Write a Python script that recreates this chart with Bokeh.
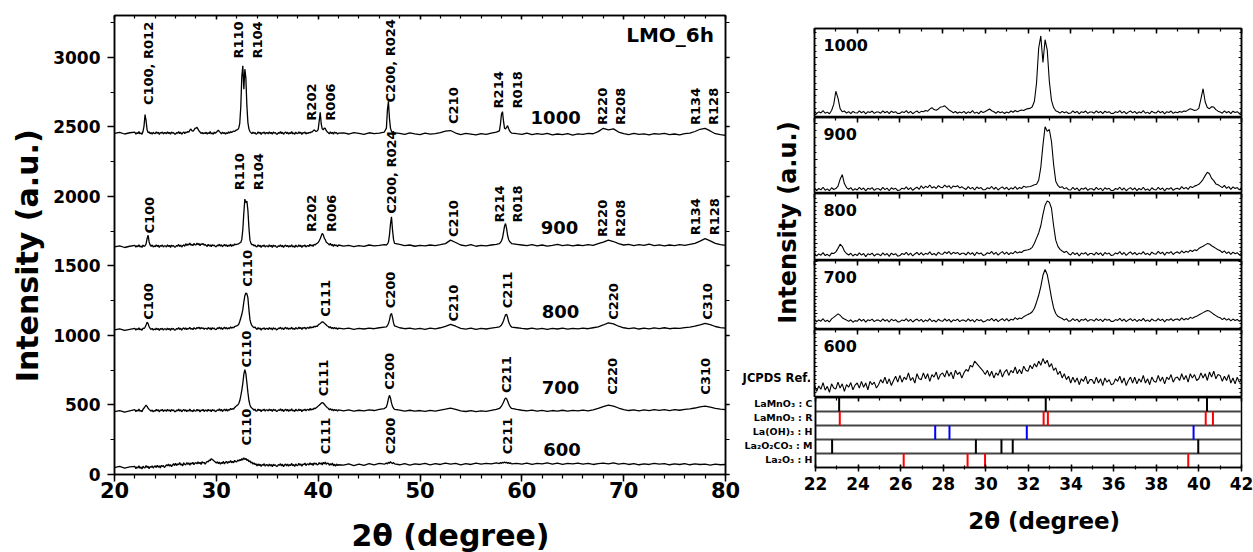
import math
from bokeh.plotting import figure
from bokeh.models import (Range1d, LinearAxis, SingleIntervalTicker, FixedTicker, BasicTicker,
                          Label, ColumnDataSource, Grid, PrintfTickFormatter)
from bokeh.layouts import row, column
from bokeh.embed import file_html
from bokeh.resources import INLINE
from bokeh.core.properties import value

FONT = "DejaVu Sans"

# ---------------- data ----------------
two_theta = [
    20.0, 20.5, 21.0, 21.5,
    22.0, 22.1, 22.2, 22.3, 22.4, 22.5, 22.6, 22.7, 22.8, 22.9,
    23.0, 23.1, 23.2, 23.3, 23.4, 23.5, 23.6, 23.7, 23.8, 23.9,
    24.0, 24.1, 24.2, 24.3, 24.4, 24.5, 24.6, 24.7, 24.8, 24.9,
    25.0, 25.1, 25.2, 25.3, 25.4, 25.5, 25.6, 25.7, 25.8, 25.9,
    26.0, 26.1, 26.2, 26.3, 26.4, 26.5, 26.6, 26.7, 26.8, 26.9,
    27.0, 27.1, 27.2, 27.3, 27.4, 27.5, 27.6, 27.7, 27.8, 27.9,
    28.0, 28.1, 28.2, 28.3, 28.4, 28.5, 28.6, 28.7, 28.8, 28.9,
    29.0, 29.1, 29.2, 29.3, 29.4, 29.5, 29.6, 29.7, 29.8, 29.9,
    30.0, 30.1, 30.2, 30.3, 30.4, 30.5, 30.6, 30.7, 30.8, 30.9,
    31.0, 31.1, 31.2, 31.3, 31.4, 31.5, 31.6, 31.7, 31.8, 31.9,
    32.0, 32.1, 32.2, 32.3, 32.4, 32.5, 32.6, 32.7, 32.8, 32.9,
    33.0, 33.1, 33.2, 33.3, 33.4, 33.5, 33.6, 33.7, 33.8, 33.9,
    34.0, 34.1, 34.2, 34.3, 34.4, 34.5, 34.6, 34.7, 34.8, 34.9,
    35.0, 35.1, 35.2, 35.3, 35.4, 35.5, 35.6, 35.7, 35.8, 35.9,
    36.0, 36.1, 36.2, 36.3, 36.4, 36.5, 36.6, 36.7, 36.8, 36.9,
    37.0, 37.1, 37.2, 37.3, 37.4, 37.5, 37.6, 37.7, 37.8, 37.9,
    38.0, 38.1, 38.2, 38.3, 38.4, 38.5, 38.6, 38.7, 38.8, 38.9,
    39.0, 39.1, 39.2, 39.3, 39.4, 39.5, 39.6, 39.7, 39.8, 39.9,
    40.0, 40.1, 40.2, 40.3, 40.4, 40.5, 40.6, 40.7, 40.8, 40.9,
    41.0, 41.1, 41.2, 41.3, 41.4, 41.5, 41.6, 41.7, 41.8, 41.9,
    42.0,
    42.5, 43.0, 43.5, 44.0, 44.5, 45.0, 45.5, 46.0, 46.5,
    46.7, 46.8, 46.9, 47.0, 47.1, 47.2, 47.3, 47.4, 47.5,
    48.0, 48.5, 49.0, 49.5, 50.0, 50.5, 51.0, 51.5, 52.0, 52.5, 53.0, 53.5, 54.0,
    54.5, 55.0, 55.5, 56.0, 56.5, 57.0, 57.5,
    57.8, 57.9, 58.0, 58.1, 58.2, 58.3, 58.4, 58.5, 58.6, 58.7, 58.8, 58.9, 59.0,
    59.5, 60.0, 60.5, 61.0, 61.5, 62.0, 62.5, 63.0, 63.5, 64.0, 64.5, 65.0, 65.5,
    66.0, 66.5, 67.0, 67.5, 68.0, 68.5, 69.0, 69.5, 70.0, 70.5, 71.0, 71.5, 72.0,
    72.5, 73.0, 73.5, 74.0, 74.5, 75.0, 75.5, 76.0, 76.5, 77.0, 77.5, 78.0, 78.5,
    79.0, 79.5, 80.0,
]

int_1000 = [
    2452, 2460, 2448, 2457,
    2461, 2447, 2458, 2451, 2465, 2449, 2456, 2446, 2466, 2505,
    2588, 2545, 2478, 2458, 2463, 2450, 2459, 2446, 2461, 2452,
    2450, 2464, 2452, 2461, 2445, 2459, 2454, 2463, 2448, 2457,
    2457, 2449, 2464, 2452, 2460, 2446, 2462, 2454, 2459, 2447,
    2448, 2458, 2453, 2465, 2450, 2461, 2446, 2456, 2463, 2451,
    2461, 2458, 2466, 2462, 2475, 2484, 2472, 2468, 2476, 2488,
    2490, 2496, 2483, 2470, 2462, 2452, 2460, 2449, 2457, 2451,
    2461, 2447, 2458, 2451, 2465, 2449, 2456, 2446, 2462, 2453,
    2460, 2468, 2476, 2465, 2458, 2449, 2461, 2452, 2458, 2447,
    2457, 2451, 2463, 2455, 2466, 2458, 2464, 2470, 2466, 2474,
    2478, 2480, 2490, 2525, 2640, 2860, 2938, 2770, 2914, 2850,
    2650, 2530, 2485, 2465, 2458, 2450, 2461, 2452, 2458, 2447,
    2450, 2464, 2452, 2461, 2445, 2459, 2454, 2463, 2448, 2457,
    2457, 2449, 2464, 2452, 2460, 2446, 2462, 2454, 2459, 2447,
    2448, 2458, 2453, 2465, 2450, 2461, 2446, 2456, 2463, 2451,
    2461, 2447, 2458, 2451, 2465, 2449, 2456, 2446, 2462, 2453,
    2450, 2464, 2452, 2461, 2445, 2459, 2454, 2463, 2448, 2457,
    2452, 2460, 2455, 2463, 2461, 2470, 2478, 2472, 2466, 2470,
    2480, 2540, 2604, 2520, 2485, 2478, 2490, 2488, 2472, 2462,
    2457, 2449, 2464, 2452, 2460, 2446, 2462, 2454, 2459, 2447,
    2454,
    2456, 2448, 2458, 2452, 2446, 2457, 2451, 2455, 2462,
    2490, 2620, 2683, 2560, 2490, 2468, 2458, 2452, 2456,
    2452, 2445, 2456, 2449, 2443, 2455, 2447, 2451, 2458, 2468, 2473, 2455, 2444,
    2452, 2447, 2441, 2450, 2446, 2455, 2462,
    2470, 2520, 2590, 2609, 2540, 2490, 2485, 2495, 2508, 2488, 2470, 2460, 2455,
    2450, 2446, 2455, 2443, 2450, 2445, 2452, 2441, 2448, 2444, 2451, 2440, 2449,
    2446, 2452, 2450, 2465, 2489, 2478, 2485, 2462, 2450, 2443, 2452, 2446, 2449,
    2441, 2450, 2447, 2452, 2444, 2448, 2442, 2450, 2455, 2466, 2482, 2489, 2470,
    2450, 2443, 2438,
]

int_900 = [
    1636, 1644, 1632, 1641,
    1648, 1634, 1645, 1638, 1652, 1636, 1643, 1633, 1649, 1640,
    1645, 1658, 1695, 1720, 1672, 1650, 1641, 1650, 1635, 1644,
    1637, 1651, 1639, 1648, 1632, 1646, 1641, 1650, 1635, 1644,
    1644, 1636, 1651, 1639, 1647, 1633, 1649, 1641, 1646, 1634,
    1637, 1647, 1642, 1654, 1639, 1650, 1635, 1645, 1652, 1640,
    1660, 1646, 1657, 1650, 1664, 1648, 1655, 1645, 1661, 1652,
    1650, 1664, 1652, 1661, 1645, 1659, 1654, 1660, 1648, 1655,
    1646, 1640, 1655, 1643, 1651, 1637, 1653, 1645, 1650, 1638,
    1639, 1649, 1644, 1656, 1641, 1652, 1637, 1647, 1654, 1642,
    1652, 1638, 1649, 1642, 1656, 1640, 1651, 1645, 1658, 1652,
    1655, 1656, 1660, 1665, 1668, 1690, 1760, 1880, 1980, 1955,
    1965, 1900, 1775, 1685, 1662, 1650, 1655, 1643, 1650, 1638,
    1637, 1651, 1639, 1648, 1632, 1646, 1641, 1650, 1635, 1644,
    1644, 1636, 1651, 1639, 1647, 1633, 1649, 1641, 1646, 1634,
    1635, 1645, 1640, 1652, 1637, 1648, 1633, 1643, 1650, 1638,
    1648, 1634, 1645, 1638, 1652, 1636, 1643, 1633, 1649, 1640,
    1637, 1651, 1639, 1648, 1632, 1646, 1641, 1650, 1635, 1644,
    1646, 1640, 1655, 1643, 1651, 1640, 1656, 1650, 1658, 1662,
    1668, 1680, 1695, 1715, 1733, 1725, 1700, 1688, 1670, 1665,
    1658, 1650, 1662, 1646, 1655, 1640, 1654, 1645, 1650, 1638,
    1650,
    1642, 1648, 1638, 1646, 1640, 1650, 1643, 1647, 1652,
    1650, 1658, 1670, 1720, 1800, 1852, 1760, 1690, 1662,
    1655, 1645, 1650, 1641, 1648, 1643, 1650, 1645, 1652, 1660, 1685, 1668, 1650,
    1644, 1652, 1641, 1648, 1643, 1650, 1655,
    1660, 1668, 1680, 1700, 1740, 1785, 1804, 1770, 1720, 1690, 1675, 1668, 1660,
    1655, 1650, 1645, 1652, 1644, 1650, 1642, 1648, 1655, 1645, 1651, 1643, 1650,
    1646, 1653, 1648, 1660, 1670, 1685, 1675, 1660, 1650, 1655, 1645, 1652, 1647,
    1656, 1646, 1651, 1644, 1650, 1645, 1652, 1648, 1655, 1662, 1678, 1696, 1680,
    1662, 1652, 1648,
]

int_800 = [
    1040, 1047, 1036, 1044,
    1050, 1038, 1048, 1042, 1054, 1040, 1046, 1037, 1052, 1050,
    1058, 1075, 1095, 1085, 1062, 1050, 1043, 1051, 1038, 1047,
    1040, 1053, 1042, 1050, 1035, 1049, 1044, 1052, 1038, 1047,
    1047, 1039, 1053, 1042, 1050, 1036, 1052, 1044, 1049, 1037,
    1040, 1050, 1045, 1056, 1042, 1052, 1038, 1048, 1055, 1043,
    1054, 1042, 1051, 1046, 1058, 1044, 1050, 1041, 1056, 1048,
    1046, 1058, 1050, 1060, 1046, 1056, 1050, 1055, 1044, 1051,
    1051, 1043, 1057, 1046, 1054, 1040, 1056, 1048, 1053, 1041,
    1044, 1054, 1049, 1060, 1046, 1056, 1042, 1052, 1059, 1047,
    1057, 1045, 1054, 1049, 1061, 1052, 1058, 1055, 1064, 1066,
    1068, 1072, 1080, 1100, 1125, 1150, 1185, 1240, 1285, 1305,
    1300, 1270, 1185, 1115, 1085, 1070, 1062, 1055, 1061, 1049,
    1043, 1056, 1045, 1053, 1038, 1052, 1047, 1055, 1041, 1050,
    1050, 1042, 1056, 1045, 1053, 1039, 1055, 1047, 1052, 1040,
    1043, 1053, 1048, 1059, 1045, 1055, 1041, 1051, 1058, 1046,
    1055, 1043, 1052, 1047, 1059, 1045, 1051, 1042, 1057, 1049,
    1047, 1060, 1049, 1057, 1042, 1056, 1051, 1059, 1045, 1054,
    1058, 1050, 1063, 1053, 1061, 1056, 1066, 1060, 1068, 1064,
    1074, 1080, 1085, 1092, 1098, 1096, 1088, 1082, 1075, 1068,
    1064, 1055, 1063, 1050, 1058, 1046, 1057, 1049, 1054, 1043,
    1052,
    1047, 1052, 1044, 1050, 1046, 1053, 1048, 1055, 1060,
    1062, 1070, 1085, 1110, 1145, 1159, 1130, 1090, 1068,
    1055, 1048, 1053, 1045, 1050, 1044, 1052, 1047, 1055, 1065, 1080, 1066, 1050,
    1045, 1052, 1044, 1050, 1046, 1053, 1058,
    1062, 1068, 1075, 1088, 1105, 1128, 1148, 1152, 1130, 1100, 1080, 1068, 1060,
    1055, 1050, 1046, 1053, 1045, 1051, 1044, 1050, 1046, 1052, 1045, 1051, 1047,
    1053, 1048, 1055, 1062, 1075, 1090, 1083, 1066, 1055, 1049, 1054, 1046, 1052,
    1047, 1054, 1049, 1055, 1048, 1053, 1050, 1056, 1060, 1066, 1076, 1087, 1078,
    1064, 1056, 1052,
]

int_700 = [
    452, 460, 448, 457,
    466, 452, 463, 456, 470, 454, 461, 451, 469, 478,
    488, 498, 490, 476, 468, 462, 455, 464, 450, 459,
    455, 469, 457, 466, 450, 464, 459, 468, 453, 462,
    462, 454, 469, 457, 465, 451, 467, 459, 464, 452,
    453, 463, 458, 470, 455, 466, 451, 461, 468, 456,
    466, 452, 463, 456, 470, 454, 461, 451, 467, 458,
    455, 469, 457, 466, 450, 464, 459, 468, 453, 462,
    462, 454, 469, 457, 465, 451, 467, 459, 464, 452,
    455, 465, 460, 472, 457, 468, 453, 463, 470, 458,
    470, 456, 467, 462, 476, 466, 474, 470, 482, 488,
    495, 500, 510, 530, 565, 605, 655, 720, 753, 725,
    660, 590, 532, 500, 484, 477, 471, 462, 470, 456,
    457, 471, 459, 468, 452, 466, 461, 470, 455, 464,
    464, 456, 471, 459, 467, 453, 469, 461, 466, 454,
    455, 465, 460, 472, 457, 468, 453, 463, 470, 458,
    468, 454, 465, 458, 472, 456, 463, 453, 469, 460,
    457, 471, 459, 468, 452, 466, 461, 470, 458, 467,
    468, 460, 475, 463, 471, 466, 478, 472, 480, 484,
    492, 498, 505, 512, 517, 514, 505, 496, 488, 480,
    476, 465, 474, 462, 470, 458, 468, 460, 466, 455,
    465,
    458, 464, 455, 462, 457, 465, 460, 468, 474,
    485, 510, 545, 569, 550, 515, 490, 476, 468,
    463, 456, 462, 455, 460, 454, 461, 456, 463, 470, 478, 468, 458,
    453, 460, 452, 458, 454, 461, 468,
    475, 482, 492, 505, 520, 538, 550, 545, 528, 508, 492, 482, 475,
    468, 462, 457, 463, 455, 461, 454, 460, 456, 462, 455, 461, 457,
    463, 458, 465, 475, 488, 498, 492, 478, 466, 460, 465, 458, 464,
    459, 466, 461, 467, 460, 466, 462, 468, 472, 478, 486, 491, 484,
    475, 470, 467,
]

int_600 = [
    50, 58, 46, 55,
    58, 42, 55, 47, 63, 45, 54, 40, 60, 50,
    48, 64, 50, 60, 42, 58, 52, 63, 46, 57,
    62, 50, 66, 52, 62, 46, 66, 58, 64, 50,
    58, 70, 62, 76, 60, 72, 56, 68, 78, 64,
    80, 64, 76, 70, 86, 68, 75, 62, 84, 72,
    70, 86, 72, 84, 66, 82, 76, 88, 70, 82,
    86, 76, 92, 78, 88, 72, 92, 82, 88, 74,
    86, 94, 90, 104, 100, 114, 108, 102, 96, 90,
    82, 92, 78, 90, 74, 86, 80, 94, 76, 88,
    94, 80, 92, 86, 100, 84, 94, 84, 102, 92,
    90, 104, 96, 108, 100, 114, 104, 120, 108, 116,
    100, 108, 92, 98, 82, 90, 74, 84, 70, 78,
    62, 76, 64, 74, 58, 72, 66, 78, 60, 70,
    70, 60, 76, 62, 72, 56, 74, 64, 70, 58,
    60, 72, 66, 78, 62, 74, 56, 68, 76, 62,
    76, 60, 72, 64, 80, 62, 72, 58, 76, 66,
    64, 80, 66, 76, 60, 76, 70, 82, 64, 74,
    76, 68, 84, 70, 80, 64, 84, 74, 82, 68,
    72, 86, 74, 84, 68, 88, 76, 90, 72, 82,
    80, 66, 78, 68, 82, 62, 74, 60, 76, 64,
    70,
    68, 76, 64, 74, 66, 78, 70, 80, 74,
    82, 76, 88, 80, 92, 84, 78, 86, 76,
    70, 78, 68, 76, 72, 80, 70, 78, 72, 82, 74, 80, 70,
    78, 72, 82, 74, 80, 76, 84,
    78, 86, 80, 88, 82, 90, 84, 88, 80, 86, 78, 84, 76,
    80, 74, 82, 72, 80, 76, 84, 74, 82, 72, 80, 76, 82,
    74, 80, 72, 78, 82, 76, 84, 74, 80, 72, 78, 70, 76,
    72, 80, 74, 78, 70, 76, 72, 78, 70, 76, 72, 74, 68,
    74, 70, 72,
]

samples = ["1000", "900", "800", "700", "600"]
series = [int_1000, int_900, int_800, int_700, int_600]

# sample name labels (left panel): left edge x, centre y
sample_lab_x = [60.86, 61.85, 61.95, 61.95, 62.1]
sample_lab_y = [2568, 1773, 1171, 622, 180]

# peak index labels (left panel): text, x, y of text start
peak_lab_text = [
    "C100, R012", "R110", "R104", "R202", "R006", "C200, R024", "C210", "R214", "R018",
    "R220", "R208", "R134", "R128",
    "C100", "R110", "R104", "R202", "R006", "C200, R024", "C210", "R214", "R018",
    "R220", "R208", "R134", "R128",
    "C100", "C110", "C111", "C200", "C210", "C211", "C220", "C310",
    "C110", "C111", "C200", "C211", "C220", "C310",
    "C110", "C111", "C200", "C211",
]
peak_lab_x = [
    23.3, 32.15, 34.02, 39.35, 41.22, 47.11, 53.33, 57.75, 59.56, 67.9, 69.7, 77.07, 78.87,
    23.44, 32.28, 34.1, 39.35, 41.3, 47.18, 53.33, 57.82, 59.56, 67.9, 69.7, 77.1, 78.9,
    23.37, 33.03, 40.73, 47.11, 53.33, 58.57, 69.05, 78.28,
    32.93, 40.56, 47.01, 58.5, 68.95, 78.05,
    32.93, 40.73, 47.11, 58.57,
]
peak_lab_y = [
    2656, 2991, 2991, 2544, 2544, 2675, 2520, 2632, 2632, 2513, 2513, 2513, 2513,
    1732, 2043, 2043, 1744, 1744, 1875, 1708, 1811, 1811, 1708, 1708, 1720, 1720,
    1112, 1350, 1135, 1195, 1100, 1195, 1112, 1112,
    770, 562, 610, 586, 574, 574,
    209, 145, 145, 145,
]

# right-hand zoom panels: y limits of each panel
zoom_y_start = [2422, 1618, 1016, 408, 27.6]
zoom_y_end = [2985, 2030, 1342, 805, 189]

# JCPDS reference lines
ref_phases = ["LaMnO\u2083 : C", "LaMnO\u2083 : R", "La(OH)\u2083 : H",
              "La\u2082O\u2082CO\u2083 : M", "La\u2082O\u2083 : H"]
ref_colors = ["black", "red", "blue", "black", "red"]
ref_positions = [
    [23.11, 32.81, 40.38],
    [23.14, 32.71, 32.91, 40.32, 40.66],
    [27.62, 28.29, 31.92, 39.75],
    [22.78, 29.53, 30.73, 31.26, 39.97],
    [26.14, 29.14, 29.96, 39.5],
]


# ---------------- helpers ----------------
def style_axis(ax, ticker, tin, tout, mtin, mtout, label_size=None, standoff=0):
    ax.ticker = ticker
    ax.major_tick_in = tin
    ax.major_tick_out = tout
    ax.minor_tick_in = mtin
    ax.minor_tick_out = mtout
    ax.axis_line_color = "black"
    ax.axis_line_width = 1.5
    ax.major_tick_line_color = "black"
    ax.major_tick_line_width = 1.5
    ax.minor_tick_line_color = "black"
    ax.minor_tick_line_width = 1.2
    ax.axis_label = None
    if label_size is None:
        ax.formatter = PrintfTickFormatter(format="")
        ax.major_label_text_font_size = "1px"
        ax.major_label_standoff = 0
    else:
        ax.major_label_text_font_size = label_size
        ax.major_label_text_font = FONT
        ax.major_label_text_font_style = "bold"
        ax.major_label_text_color = "black"
        ax.major_label_standoff = standoff


def blabel(p, x, y, text, size, **kw):
    p.add_layout(Label(x=x, y=y, text=text, text_font=FONT, text_font_style="bold",
                       text_font_size=size, text_color="black", **kw))


def blank_fig(w, h):
    f = figure(width=w, height=h, x_range=Range1d(0, w), y_range=Range1d(0, h),
               x_axis_location=None, y_axis_location=None, output_backend="svg",
               toolbar_location=None, min_border=0)
    f.grid.visible = False
    f.outline_line_color = None
    return f


# ---------------- left panel ----------------
pL = figure(width=691, height=509, x_range=Range1d(20, 80), y_range=Range1d(0, 3300),
            output_backend="svg", toolbar_location=None,
            min_border_left=64, min_border_right=16, min_border_top=15, min_border_bottom=35)
pL.grid.visible = False
pL.outline_line_color = "black"
pL.outline_line_width = 1.5

for arr in series:
    pL.line(two_theta, arr, line_color="black", line_width=1.3)

style_axis(pL.xaxis[0], SingleIntervalTicker(interval=10, num_minor_ticks=5), 0, 7, 0, 4,
           "21px", 0)
style_axis(pL.yaxis[0], SingleIntervalTicker(interval=500, num_minor_ticks=2), 0, 7, 0, 4,
           "17px", 7)
top_ax = LinearAxis()
style_axis(top_ax, SingleIntervalTicker(interval=10, num_minor_ticks=5), 4, 0, 3, 0)
pL.add_layout(top_ax, "above")
right_ax = LinearAxis()
style_axis(right_ax, SingleIntervalTicker(interval=500, num_minor_ticks=2), 0, 4, 0, 4)
pL.add_layout(right_ax, "right")

peak_src = ColumnDataSource(dict(x=peak_lab_x, y=peak_lab_y, t=peak_lab_text))
pL.text(x="x", y="y", text="t", source=peak_src, angle=math.pi / 2,
        text_align="left", text_baseline="middle", text_font=value(FONT),
        text_font_style="bold", text_font_size="13px", text_color="black")

samp_src = ColumnDataSource(dict(x=sample_lab_x, y=sample_lab_y, t=samples))
pL.text(x="x", y="y", text="t", source=samp_src, text_align="left",
        text_baseline="middle", text_font=value(FONT), text_font_style="bold",
        text_font_size="18px", text_color="black")

blabel(pL, 78.87, 3161, "LMO_6h", "20px", text_align="right", text_baseline="middle")

ylabL = blank_fig(50, 509)
blabel(ylabL, 27, 242.5, "Intensity (a.u.)", "30px", angle=math.pi / 2,
       text_align="center", text_baseline="middle")
xlabL = blank_fig(741, 43)
blabel(xlabL, 450, 17, "2\u03b8 (degree)", "30px", text_align="center",
       text_baseline="middle")

left_block = column(row(ylabL, pL), xlabL)

# ---------------- right zoom panels ----------------
heights = [117, 76, 67, 69, 68]
tops = [28, 0, 0, 0, 0]
panels = []
for name, arr, ys, ye, h, top in zip(samples, series, zoom_y_start, zoom_y_end, heights, tops):
    p = figure(width=443, height=h, x_range=Range1d(22, 42), y_range=Range1d(ys, ye),
               x_axis_location="above", y_axis_location=None,
               output_backend="svg", toolbar_location=None,
               min_border_left=4, min_border_right=12, min_border_top=top,
               min_border_bottom=0)
    p.grid.visible = False
    p.outline_line_color = "black"
    p.outline_line_width = 1.5
    style_axis(p.xaxis[0], SingleIntervalTicker(interval=2, num_minor_ticks=2), 5, 0, 3, 0)
    for side in ("left", "right"):
        ax = LinearAxis()
        style_axis(ax, BasicTicker(desired_num_ticks=3, num_minor_ticks=5), 3, 0, 2, 0)
        ax.minor_tick_line_width = 1
        ax.major_tick_line_width = 1
        p.add_layout(ax, side)
    p.line(two_theta, arr, line_color="black", line_width=1.1)
    fh = h - top
    blabel(p, 22.42, ye - 16 * (ye - ys) / fh, name, "16px", text_align="left",
           text_baseline="middle")
    panels.append(p)

pLab = blank_fig(69, 397)
blabel(pLab, 46.7, 175, "Intensity (a.u.)", "24px", angle=math.pi / 2,
       text_align="center", text_baseline="middle")
blabel(pLab, 69.5, 19.5, "JCPDS Ref.", "11.5px", text_align="right",
       text_baseline="middle")

# ---------------- reference bars ----------------
row_ticks = [4.55, 3.55, 2.55, 1.55, 0.55]
pR = figure(width=512, height=110, x_range=Range1d(22, 42), y_range=Range1d(0, 5),
            output_backend="svg", toolbar_location=None,
            min_border_left=73, min_border_right=12, min_border_top=0, min_border_bottom=40)
pR.grid.visible = False
pR.outline_line_color = "black"
pR.outline_line_width = 1.5
pR.add_layout(Grid(dimension=1, ticker=FixedTicker(ticks=[1, 2, 3, 4]),
                   grid_line_color="#444444", grid_line_width=2))
style_axis(pR.xaxis[0], SingleIntervalTicker(interval=2, num_minor_ticks=2), 3, 4, 2, 2,
           "17px", 5)
ya = pR.yaxis[0]
ya.ticker = FixedTicker(ticks=row_ticks)
ya.major_label_overrides = {t: n for t, n in zip(row_ticks, ref_phases)}
ya.major_tick_in = 0
ya.major_tick_out = 0
ya.minor_tick_in = 0
ya.minor_tick_out = 0
ya.axis_line_color = "black"
ya.axis_line_width = 1.5
ya.major_label_text_font = FONT
ya.major_label_text_font_style = "bold"
ya.major_label_text_font_size = "9.5px"
ya.major_label_text_color = "black"
ya.major_label_standoff = 3
top_r = LinearAxis()
style_axis(top_r, SingleIntervalTicker(interval=2, num_minor_ticks=2), 4, 0, 3, 0)
pR.add_layout(top_r, "above")

for i, (name, poss, col) in enumerate(zip(ref_phases, ref_positions, ref_colors)):
    r = 4 - i
    pR.segment(x0=poss, y0=[r] * len(poss), x1=poss, y1=[r + 1] * len(poss),
               line_color=col, line_width=2)

xlabR = blank_fig(512, 45)
blabel(xlabR, 274.8, 32, "2\u03b8 (degree)", "23px", text_align="center",
       text_baseline="middle")

right_block = column(row(pLab, column(*panels)), pR, xlabR)
layout = row(left_block, right_block)

open("out.html", "w").write(file_html(layout, INLINE))
